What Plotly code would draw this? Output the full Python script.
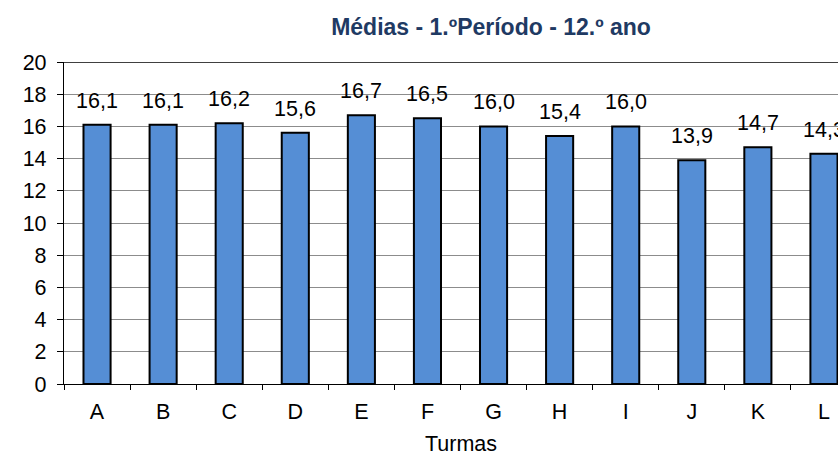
import plotly.graph_objects as go

# Class averages, 1st term, 12th grade
turmas = ["A", "B", "C", "D", "E", "F", "G", "H", "I", "J", "K", "L"]
medias = [16.1, 16.1, 16.2, 15.6, 16.7, 16.5, 16.0, 15.4, 16.0, 13.9, 14.7, 14.3]
y_ticks = list(range(0, 21, 2))

BAR_COLOR = "#558ED5"
FONT = "Liberation Sans, Arial, sans-serif"
LABEL_SIZE = 21.5

fig = go.Figure()
fig.add_trace(go.Bar(
    x=turmas,
    y=medias,
    width=0.41,
    marker=dict(color=BAR_COLOR, line=dict(color="black", width=2)),
    hoverinfo="x+y",
))

# value labels in Portuguese decimal format
for t, v in zip(turmas, medias):
    fig.add_annotation(
        x=t, y=v, xref="x", yref="y",
        text=f"{v:.1f}".replace(".", ","),
        showarrow=False, yanchor="bottom", yshift=10,
        font=dict(family=FONT, size=LABEL_SIZE, color="black"),
    )

# x-axis title centred on the category band
fig.add_annotation(
    x=5.5, y=0, xref="x", yref="paper",
    text="Turmas", showarrow=False, yanchor="middle", yshift=-60,
    font=dict(family=FONT, size=LABEL_SIZE, color="black"),
)

# black top border of the plot area
fig.add_shape(type="line", xref="paper", yref="y", x0=0, x1=1, y0=20, y1=20,
              line=dict(color="black", width=1.3))

fig.update_layout(
    width=838, height=456,
    margin=dict(l=64, r=0, t=62, b=72),
    paper_bgcolor="white", plot_bgcolor="white",
    showlegend=False,
    title=dict(
        text="<b>Médias - 1.ºPeríodo - 12.º ano</b>",
        x=491 / 838, xref="container", xanchor="center",
        y=1 - 27 / 456, yref="container", yanchor="middle",
        font=dict(family=FONT, size=23, color="#1F3A63"),
    ),
    xaxis=dict(
        type="category",
        range=[-0.5, 11.5 - 19 / 66.1],
        showgrid=False,
        showline=True, linecolor="black", linewidth=1.3,
        ticks="outside", tickson="boundaries", ticklen=5, tickcolor="black",
        ticklabelstandoff=8,
        tickfont=dict(family=FONT, size=LABEL_SIZE, color="black"),
        fixedrange=True,
    ),
    yaxis=dict(
        range=[0, 20],
        tickvals=y_ticks,
        showgrid=True, gridcolor="#8c8c8c", gridwidth=1.3,
        showline=True, linecolor="black", linewidth=1.3,
        ticks="outside", ticklen=6, tickcolor="black",
        ticklabelstandoff=6,
        tickfont=dict(family=FONT, size=LABEL_SIZE, color="black"),
        zeroline=False,
        fixedrange=True,
    ),
)

fig.write_html("out.html")
